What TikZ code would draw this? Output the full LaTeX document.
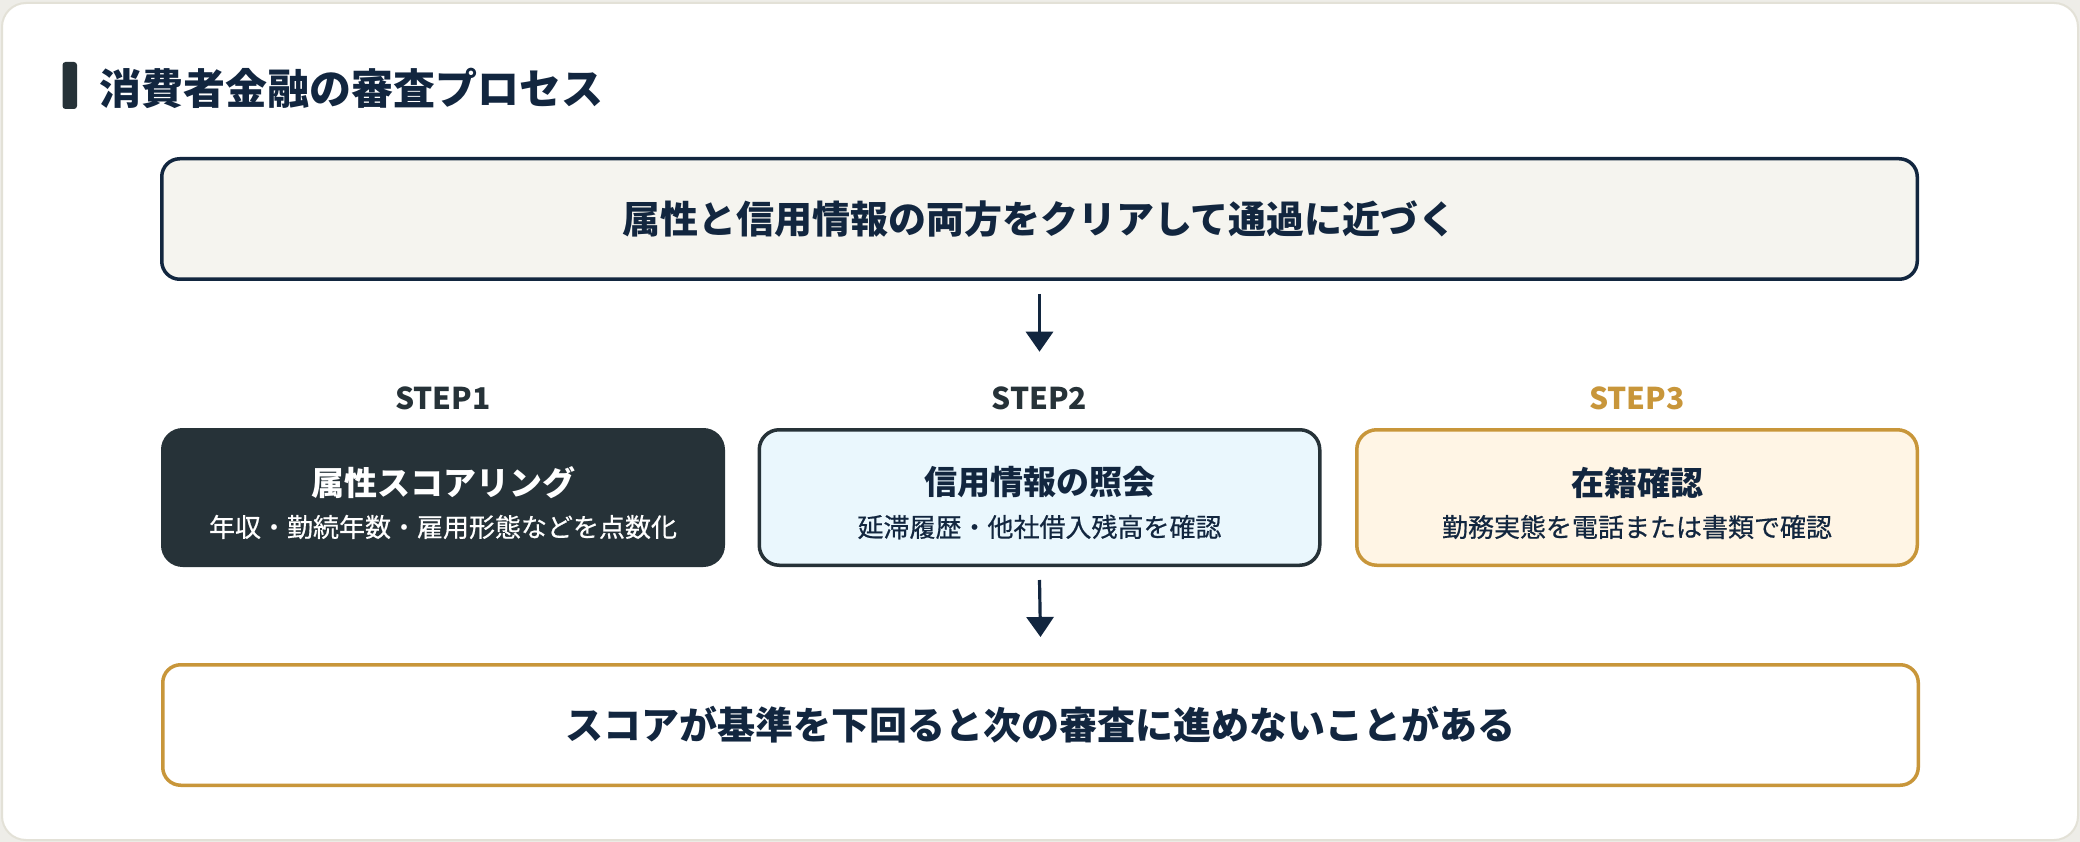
\documentclass[tikz,border=0pt]{standalone}
\usepackage{fontspec}
\setmainfont{Noto Sans CJK JP}
\newfontfamily\medfont{Noto Sans CJK JP}[FakeBold=0.6]
\usetikzlibrary{arrows.meta}
\definecolor{navy}{HTML}{12263F}
\definecolor{slate}{HTML}{263238}
\definecolor{gold}{HTML}{C8963A}
\definecolor{topfill}{HTML}{F5F4EF}
\definecolor{bluefill}{HTML}{EAF7FD}
\definecolor{creamfill}{HTML}{FFF5E5}
\definecolor{cardline}{HTML}{E3E1D7}
\definecolor{outbg}{HTML}{EEEDE8}
\newcommand{\fsz}[1]{\fontsize{#1}{#1}\selectfont}
\tikzset{
  widebox/.style={draw, line width=3.5pt, rounded corners=18pt, minimum width=1755.5pt, minimum height=120.5pt, inner sep=0pt, font=\fsz{38}\bfseries, text=navy},
  stepbox/.style={draw, line width=3.5pt, rounded corners=20pt, minimum width=560.5pt, minimum height=135.5pt, inner sep=0pt},
  steplabel/.style={inner sep=0pt, font=\fsz{30}\bfseries},
  steptitle/.style={inner sep=0pt, font=\fsz{33}\bfseries},
  stepsub/.style={inner sep=0pt, font=\medfont\fsz{26}},
  arr/.style={draw=navy, line width=3.2pt, -{Triangle[length=20pt,width=27pt]}},
}
\begin{document}
\begin{tikzpicture}[x=1pt,y=-1pt]
\useasboundingbox (0,0) rectangle (2080,842);
\fill[outbg] (0,0) rectangle (2080,842);
\draw[cardline, fill=white, line width=2pt, rounded corners=24pt] (2,3) rectangle (2078,840);
% title
\node[fill=slate, rounded corners=3pt, minimum width=14.5pt, minimum height=47pt, inner sep=0pt] (bar) at (69.75,85.5) {};
\node[anchor=west, inner sep=0pt, font=\fsz{42}\bfseries, text=navy] (title) at (99,88) {消費者金融の審査プロセス};
% top box
\node[widebox, draw=navy, fill=topfill] (top) at (1039.5,219) {属性と信用情報の両方をクリアして通過に近づく};
% steps
\node[steplabel, text=slate] (lab1) at (443,398.5) {STEP1};
\node[steplabel, text=slate] (lab2) at (1039.5,398.5) {STEP2};
\node[steplabel, text=gold] (lab3) at (1637,398.5) {STEP3};
\node[stepbox, draw=slate, fill=slate] (s1) at (443,497.5) {};
\node[stepbox, draw=slate, fill=bluefill] (s2) at (1039.5,497.5) {};
\node[stepbox, draw=gold, fill=creamfill] (s3) at (1637,497.5) {};
\node[steptitle, text=white] (t1) at (443,482.5) {属性スコアリング};
\node[stepsub, text=white] (d1) at (443,527) {年収・勤続年数・雇用形態などを点数化};
\node[steptitle, text=navy] (t2) at (1039.5,482.5) {信用情報の照会};
\node[stepsub, text=navy] (d2) at (1039.5,527) {延滞履歴・他社借入残高を確認};
\node[steptitle, text=navy] (t3) at (1637,482.5) {在籍確認};
\node[stepsub, text=navy] (d3) at (1637,527) {勤務実態を電話または書類で確認};
% bottom box
\node[widebox, draw=gold, fill=white] (bottom) at (1040.5,725) {スコアが基準を下回ると次の審査に進めないことがある};
% arrows
\draw[arr] ([yshift=-13pt]top.south) -- ([yshift=35pt]lab2.north);
\draw[arr] ([yshift=-13pt]s2.south) -- ([yshift=26pt]bottom.north);
\end{tikzpicture}
\end{document}
